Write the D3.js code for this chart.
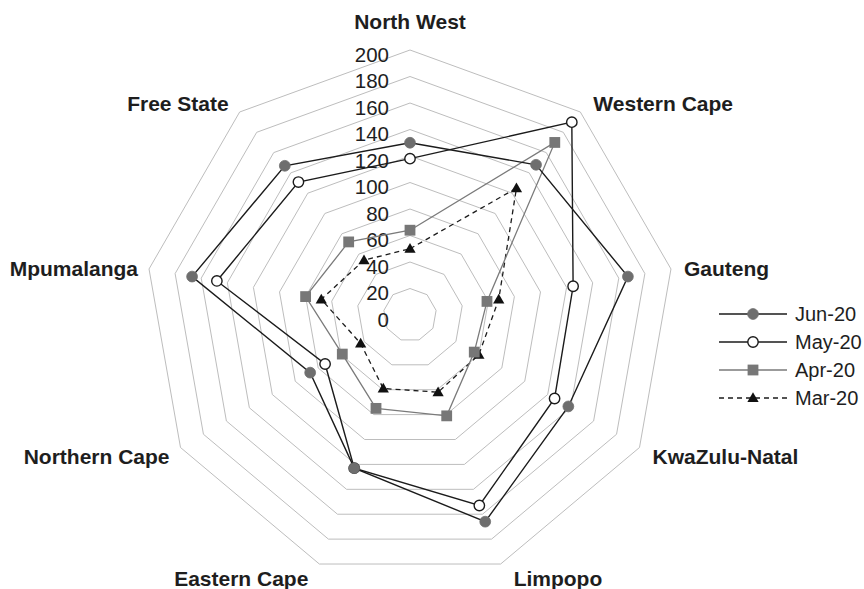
<!DOCTYPE html>
<html>
<head>
<meta charset="utf-8">
<script src="https://cdn.jsdelivr.net/npm/d3@7"></script>
<style>
  html, body { margin: 0; padding: 0; background: #fff; }
  svg { display: block; font-family: "Liberation Sans", Arial, Helvetica, sans-serif; }
</style>
</head>
<body>
<svg id="chart" width="864" height="589"></svg>
<script>
// Provinces, clockwise from the top
const categories = ["North West", "Western Cape", "Gauteng", "KwaZulu-Natal", "Limpopo",
                    "Eastern Cape", "Northern Cape", "Mpumalanga", "Free State"];

const jun20 = [130, 148, 167, 138, 166, 123, 87, 167, 147];
const may20 = [118, 190, 125, 126, 153, 123, 74, 148, 131];
const apr20 = [64, 170, 59, 56, 81, 75, 59, 80, 72];
const mar20 = [50, 125, 68, 60, 62, 59, 43, 68, 54];

const seriesNames = ["Jun-20", "May-20", "Apr-20", "Mar-20"];
const tickValues = [0, 20, 40, 60, 80, 100, 120, 140, 160, 180, 200];

const series = [
  { name: seriesNames[0], values: jun20, stroke: "#1b1b1b", width: 1.4, dash: null, marker: "filledCircle" },
  { name: seriesNames[1], values: may20, stroke: "#1b1b1b", width: 1.4, dash: null, marker: "openCircle" },
  { name: seriesNames[2], values: apr20, stroke: "#7a7a7a", width: 1.3, dash: null, marker: "square" },
  { name: seriesNames[3], values: mar20, stroke: "#1b1b1b", width: 1.3, dash: "5,4", marker: "triangle" }
];

const svg = d3.select("#chart");
const cx = 410, cy = 315, R = 265;

const r = d3.scaleLinear().domain([0, 200]).range([0, R]);
const angle = d3.scaleLinear().domain([0, categories.length]).range([0, 2 * Math.PI]);

const g = svg.append("g").attr("transform", `translate(${cx},${cy})`);

// Polygon grid rings
const ringLine = d3.lineRadial()
  .angle((d, i) => angle(i))
  .radius(d => r(d))
  .curve(d3.curveLinearClosed);

g.append("g").selectAll("path")
  .data(tickValues.filter(v => v > 0))
  .join("path")
  .attr("d", v => ringLine(categories.map(() => v)))
  .attr("fill", "none")
  .attr("stroke", "#bdbdbd")
  .attr("stroke-width", 1);

// Value labels along the first axis
g.append("g").selectAll("text")
  .data(tickValues)
  .join("text")
  .attr("x", -21)
  .attr("y", v => -r(v) + 4)
  .attr("text-anchor", "end")
  .attr("dominant-baseline", "central")
  .attr("font-size", 20.5)
  .attr("fill", "#1e1e1e")
  .text(v => v);

// Category labels outside the outer ring
const pt = (i, v) => {
  const a = angle(i);
  return [r(v) * Math.sin(a), -r(v) * Math.cos(a)];
};

g.append("g").selectAll("text")
  .data(categories)
  .join("text")
  .each(function (name, i) {
    const a = angle(i);
    const [vx, vy] = pt(i, 200);
    const s = Math.sin(a), c = Math.cos(a);
    const t = d3.select(this);
    if (Math.abs(s) < 1e-6) {
      t.attr("x", vx).attr("y", vy - 21).attr("text-anchor", "middle");
    } else {
      t.attr("x", vx + (s > 0 ? 13 : -11))
       .attr("y", vy + 9.5 - 13.4 * c)
       .attr("text-anchor", s > 0 ? "start" : "end");
    }
  })
  .attr("font-size", 21)
  .attr("font-weight", "bold")
  .attr("fill", "#1e1e1e")
  .text(d => d);

// Marker drawing
function drawMarker(sel, type) {
  if (type === "filledCircle") {
    sel.append("circle").attr("r", 5.4).attr("fill", "#6e6e6e").attr("stroke", "#6e6e6e").attr("stroke-width", 0.8);
  } else if (type === "openCircle") {
    sel.append("circle").attr("r", 5.2).attr("fill", "#fff").attr("stroke", "#1b1b1b").attr("stroke-width", 1.4);
  } else if (type === "square") {
    sel.append("rect").attr("x", -5.4).attr("y", -5.4).attr("width", 10.8).attr("height", 10.8).attr("fill", "#777");
  } else if (type === "triangle") {
    sel.append("path").attr("d", d3.symbol().type(d3.symbolTriangle).size(55)()).attr("fill", "#111")
      .attr("transform", "translate(0,0.8)");
  }
}

const seriesLine = d3.lineRadial()
  .angle((d, i) => angle(i))
  .radius(d => r(d))
  .curve(d3.curveLinearClosed);

// Draw oldest month first so June sits on top
const drawOrder = series.slice().reverse();
drawOrder.forEach(s => {
  const sg = g.append("g");
  sg.append("path")
    .attr("d", seriesLine(s.values))
    .attr("fill", "none")
    .attr("stroke", s.stroke)
    .attr("stroke-width", s.width)
    .attr("stroke-dasharray", s.dash);
  s.values.forEach((v, i) => {
    const [x, y] = pt(i, v);
    drawMarker(sg.append("g").attr("transform", `translate(${x},${y})`), s.marker);
  });
});

// Legend
const legend = svg.append("g").attr("transform", "translate(719,314)");
series.forEach((s, i) => {
  const row = legend.append("g").attr("transform", `translate(0,${i * 28})`);
  row.append("line")
    .attr("x1", 0).attr("x2", 68).attr("y1", 0).attr("y2", 0)
    .attr("stroke", s.stroke).attr("stroke-width", s.width)
    .attr("stroke-dasharray", s.dash);
  drawMarker(row.append("g").attr("transform", "translate(34,0)"), s.marker);
  row.append("text")
    .attr("x", 76).attr("y", 0)
    .attr("dominant-baseline", "central")
    .attr("font-size", 20)
    .attr("fill", "#1e1e1e")
    .text(s.name);
});
</script>
</body>
</html>
